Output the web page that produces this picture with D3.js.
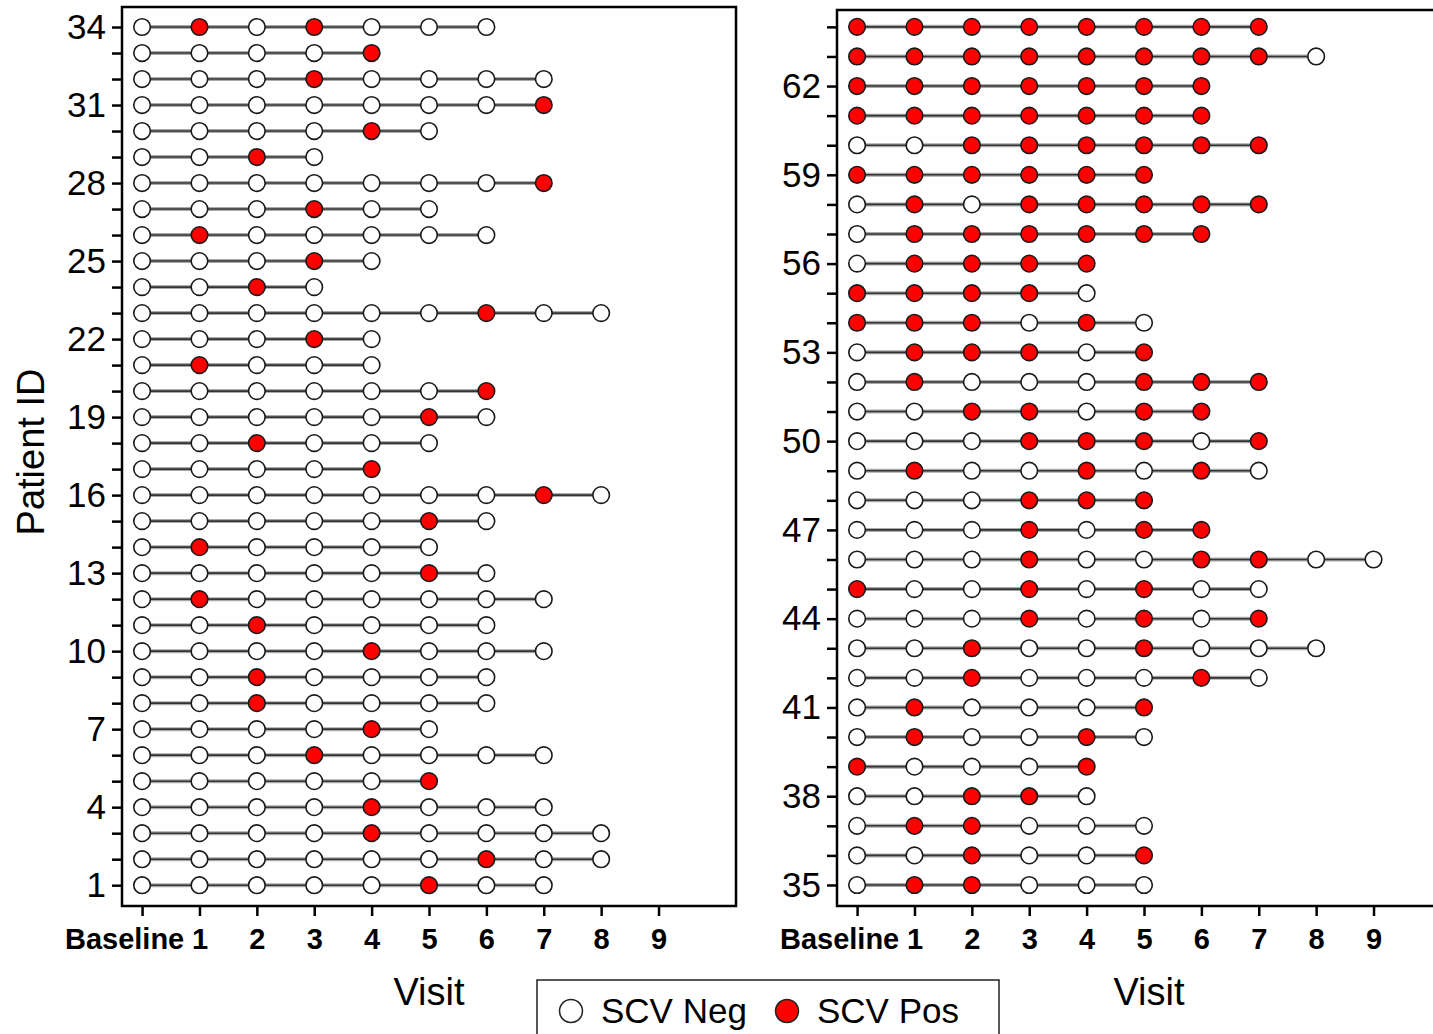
<!DOCTYPE html>
<html>
<head>
  <script src="https://d3js.org/d3.v7.min.js"></script>
  <style>
    html, body {
      margin: 0px;
      padding: 0px;
      background: #fff;
      font-family: "Liberation Sans", Arial, sans-serif;
    }
    .ylab text { font-size: 35px; }
    .xlab text { font-size: 29px; font-weight: bold; }
    .axisTitle { font-size: 38px; }
  </style>
</head>
<body>
  <div id="chart"></div>
  <script>
    const width = 1433;
    const height = 1034;

    // visit ticks (0 = baseline)
    const visitTicks = [0, 1, 2, 3, 4, 5, 6, 7, 8, 9];
    const visitLabels = ["Baseline", "1", "2", "3", "4", "5", "6", "7", "8", "9"];

    // left panel: patients 1..34, one string per patient, one char per visit (1 = SCV pos)
    const leftIds = [1, 2, 3, 4, 5, 6, 7, 8, 9, 10, 11, 12, 13, 14, 15, 16, 17,
      18, 19, 20, 21, 22, 23, 24, 25, 26, 27, 28, 29, 30, 31, 32, 33, 34];
    const leftVisits = [
      "00000100", "000000100", "000010000", "00001000", "000001", "00010000",
      "000010", "0010000", "0010000", "00001000", "0010000", "01000000",
      "0000010", "010000", "0000010", "000000010", "00001", "001000",
      "0000010", "0000001", "01000", "00010", "000000100", "0010",
      "00010", "0100000", "000100", "00000001", "0010", "000010",
      "00000001", "00010000", "00001", "0101000"
    ];
    const leftLabelIds = [1, 4, 7, 10, 13, 16, 19, 22, 25, 28, 31, 34];

    // right panel: patients 35..64
    const rightIds = [35, 36, 37, 38, 39, 40, 41, 42, 43, 44, 45, 46, 47, 48, 49,
      50, 51, 52, 53, 54, 55, 56, 57, 58, 59, 60, 61, 62, 63, 64];
    const rightVisits = [
      "011000", "001001", "011000", "00110", "10001", "010010",
      "010001", "00100010", "001001000", "00010101", "10010100", "0001001100",
      "0001011", "000111", "01001010", "00011101", "0011011", "01000111",
      "011101", "111010", "11110", "01111", "0111111", "01011111",
      "111111", "00111111", "1111111", "1111111", "111111110", "11111111"
    ];
    const rightLabelIds = [35, 38, 41, 44, 47, 50, 53, 56, 59, 62];

    const legendItems = ["SCV Neg", "SCV Pos"];

    const svg = d3.select("#chart")
      .append("svg")
      .attr("width", width)
      .attr("height", height);

    function drawPanel(ids, visits, labelIds, box, yDomain) {
      const xScale = d3.scaleLinear()
        .domain([-0.35, 10.35])
        .range([box.left, box.right]);

      const yScale = d3.scaleLinear()
        .domain(yDomain)
        .range([box.bottom, box.top]);

      const g = svg.append("g");

      // y axis
      g.append("g")
        .attr("class", "ylab")
        .attr("transform", `translate(${box.left},0)`)
        .call(d3.axisLeft(yScale)
          .tickValues(ids)
          .tickSize(10)
          .tickPadding(6)
          .tickFormat(d => labelIds.includes(d) ? d : ""))
        .call(a => a.select(".domain").remove())
        .call(a => a.selectAll("line").attr("stroke", "#000").attr("stroke-width", 2.5))
        .call(a => a.selectAll("text").attr("fill", "#000").attr("font-family", null).attr("font-size", null));

      // x axis
      g.append("g")
        .attr("class", "xlab")
        .attr("transform", `translate(0,${box.bottom})`)
        .call(d3.axisBottom(xScale)
          .tickValues(visitTicks)
          .tickSize(10)
          .tickPadding(12)
          .tickFormat((d, i) => visitLabels[i]))
        .call(a => a.select(".domain").remove())
        .call(a => a.selectAll("line").attr("stroke", "#000").attr("stroke-width", 2.5))
        .call(a => a.selectAll("text").attr("fill", "#000").attr("font-family", null).attr("font-size", null)
          .attr("dx", (d, i) => i === 0 ? -18 : 0));

      // rows
      const rows = g.selectAll(".row")
        .data(ids.map((id, i) => ({id: id, v: visits[i].split("").map(Number)})))
        .enter()
        .append("g")
        .attr("class", "row");

      rows.append("line")
        .attr("x1", xScale(0))
        .attr("x2", d => xScale(d.v.length - 1))
        .attr("y1", d => yScale(d.id))
        .attr("y2", d => yScale(d.id))
        .attr("stroke", "#aaa")
        .attr("stroke-width", 4);

      rows.append("line")
        .attr("x1", xScale(0))
        .attr("x2", d => xScale(d.v.length - 1))
        .attr("y1", d => yScale(d.id))
        .attr("y2", d => yScale(d.id))
        .attr("stroke", "#333")
        .attr("stroke-width", 1.6);

      rows.selectAll("circle")
        .data(d => d.v.map((p, k) => ({id: d.id, k: k, p: p})))
        .enter()
        .append("circle")
          .attr("cx", d => xScale(d.k))
          .attr("cy", d => yScale(d.id))
          .attr("r", 8.3)
          .attr("fill", d => d.p ? "#ff0000" : "#fff")
          .attr("stroke", "#1a1a1a")
          .attr("stroke-width", 1.6);

      // frame
      g.append("rect")
        .attr("x", box.left)
        .attr("y", box.top)
        .attr("width", box.right - box.left)
        .attr("height", box.bottom - box.top)
        .attr("fill", "none")
        .attr("stroke", "#000")
        .attr("stroke-width", 2.5);

      // x title
      g.append("text")
        .attr("class", "axisTitle")
        .attr("x", (box.left + box.right) / 2 + (box.titleDx || 0))
        .attr("y", 1005)
        .attr("text-anchor", "middle")
        .text("Visit");
    }

    drawPanel(leftIds, leftVisits, leftLabelIds,
      {left: 122, right: 736, top: 7, bottom: 906}, [0.2, 34.77]);
    drawPanel(rightIds, rightVisits, rightLabelIds,
      {left: 837, right: 1451, top: 10, bottom: 906, titleDx: 5}, [34.29, 64.57]);

    // y title
    svg.append("text")
      .attr("class", "axisTitle")
      .attr("transform", "translate(44,452) rotate(-90)")
      .attr("text-anchor", "middle")
      .text("Patient ID");

    // legend
    const legend = svg.append("g");
    legend.append("rect")
      .attr("x", 537)
      .attr("y", 980)
      .attr("width", 462)
      .attr("height", 70)
      .attr("fill", "#fff")
      .attr("stroke", "#222")
      .attr("stroke-width", 1.5);

    const legendX = d3.scaleOrdinal().domain(legendItems).range([571, 787]);
    const legendFill = d3.scaleOrdinal().domain(legendItems).range(["#fff", "#ff0000"]);

    legend.selectAll("circle")
      .data(legendItems)
      .enter()
      .append("circle")
        .attr("cx", d => legendX(d))
        .attr("cy", 1011)
        .attr("r", 11.5)
        .attr("fill", d => legendFill(d))
        .attr("stroke", "#222")
        .attr("stroke-width", 1.5);

    legend.selectAll("text")
      .data(legendItems)
      .enter()
      .append("text")
        .attr("x", d => legendX(d) + 30)
        .attr("y", 1023)
        .attr("font-size", "35px")
        .text(d => d);
  </script>
</body>
</html>
